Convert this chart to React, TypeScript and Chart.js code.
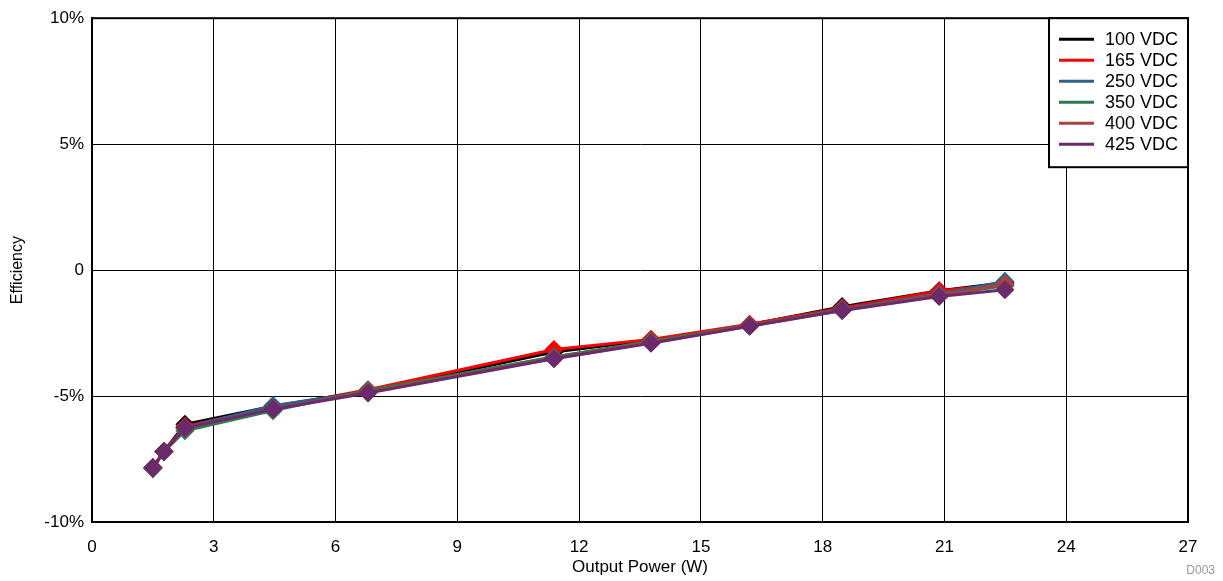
import React, { useEffect, useRef } from "react";
import { Chart, registerables } from "chart.js";

Chart.register(...registerables);

const outputPower = [1.5, 1.77, 2.29, 4.46, 6.8, 11.38, 13.77, 16.2, 18.48, 20.87, 22.49];

const seriesNames = ["100 VDC", "165 VDC", "250 VDC", "350 VDC", "400 VDC", "425 VDC"];
const seriesColors = ["#000000", "#ff0000", "#2f6089", "#2e7a4e", "#a8423f", "#6b2a6b"];

const eff100 = [-7.85, -7.2, -6.12, -5.4, -4.8, -3.25, -2.78, -2.17, -1.45, -0.82, -0.5];
const eff165 = [-7.85, -7.2, -6.2, -5.45, -4.75, -3.15, -2.75, -2.15, -1.5, -0.83, -0.55];
const eff250 = [-7.88, -7.2, -6.25, -5.38, -4.82, -3.45, -2.85, -2.2, -1.55, -0.95, -0.45];
const eff350 = [-7.85, -7.22, -6.38, -5.58, -4.78, -3.45, -2.82, -2.2, -1.58, -1.0, -0.62];
const eff400 = [-7.85, -7.2, -6.28, -5.5, -4.85, -3.5, -2.88, -2.22, -1.6, -1.0, -0.55];
const eff425 = [-7.85, -7.2, -6.27, -5.52, -4.88, -3.52, -2.9, -2.23, -1.6, -1.05, -0.78];

const seriesValues = [eff100, eff165, eff250, eff350, eff400, eff425];

const xTicks = [0, 3, 6, 9, 12, 15, 18, 21, 24, 27];
const yTicks = [-10, -5, 0, 5, 10];

const FONT = "'Liberation Sans', Arial, sans-serif";

const overlayPlugin = {
  id: "overlay",
  afterDraw(chart: any) {
    const { ctx, chartArea } = chart;
    const { left, right, top, bottom } = chartArea;
    ctx.save();
    // plot frame
    ctx.strokeStyle = "#000";
    ctx.lineWidth = 2;
    ctx.strokeRect(left, top, right - left, bottom - top);
    // legend box
    const bx = 1049, by = top, bw = right - 1049, bh = 149;
    ctx.fillStyle = "#fff";
    ctx.fillRect(bx, by, bw, bh);
    ctx.strokeRect(bx, by, bw, bh);
    ctx.font = `18px ${FONT}`;
    ctx.textBaseline = "middle";
    ctx.textAlign = "left";
    seriesNames.forEach((name, i) => {
      const y = by + 21 + i * 21;
      ctx.strokeStyle = seriesColors[i];
      ctx.lineWidth = 3;
      ctx.beginPath();
      ctx.moveTo(bx + 10, y);
      ctx.lineTo(bx + 45, y);
      ctx.stroke();
      ctx.fillStyle = "#000";
      ctx.fillText(name, bx + 56, y + 1);
    });
    // figure id
    ctx.font = `12px ${FONT}`;
    ctx.fillStyle = "#999";
    ctx.textAlign = "right";
    ctx.fillText("D003", 1215, 571);
    ctx.restore();
  },
};

export default function App() {
  const ref = useRef<HTMLCanvasElement>(null);
  useEffect(() => {
    if (!ref.current) return;
    const datasets = seriesNames.map((name, i) => ({
      label: name,
      data: outputPower.map((x, j) => ({ x, y: seriesValues[i][j] })),
      borderColor: seriesColors[i],
      backgroundColor: seriesColors[i],
      borderWidth: 3,
      pointStyle: "rectRot" as const,
      pointRadius: 8.5,
      pointBorderWidth: 1.5,
      pointBackgroundColor: seriesColors[i],
      pointBorderColor: seriesColors[i],
      order: seriesNames.length - i,
      tension: 0,
    }));
    const chart = new Chart(ref.current, {
      type: "line",
      data: { datasets },
      plugins: [overlayPlugin],
      options: {
        animation: false,
        responsive: true,
        maintainAspectRatio: false,
        layout: { padding: { top: 15, right: 35, left: 0, bottom: 0 } },
        plugins: { legend: { display: false }, tooltip: { enabled: false } },
        scales: {
          x: {
            type: "linear",
            min: 0,
            max: 27,
            afterBuildTicks: (s: any) => {
              s.ticks = xTicks.map((v) => ({ value: v }));
            },
            afterFit: (s: any) => {
              s.height = 59;
            },
            ticks: {
              color: "#000",
              font: { family: FONT, size: 17 },
              padding: 15,
              maxRotation: 0,
            },
            grid: { color: "#000", lineWidth: 1, drawTicks: false },
            border: { color: "#000", width: 2 },
            title: {
              display: true,
              text: "Output Power (W)",
              color: "#000",
              font: { family: FONT, size: 17 },
              padding: { top: 0, bottom: 3 },
            },
          },
          y: {
            type: "linear",
            min: -10,
            max: 10,
            afterBuildTicks: (s: any) => {
              s.ticks = yTicks.map((v) => ({ value: v }));
            },
            afterFit: (s: any) => {
              s.width = 92;
            },
            ticks: {
              color: "#000",
              font: { family: FONT, size: 17 },
              padding: 8,
              callback: (v: any) => (v === 0 ? "0" : `${v}%`),
            },
            grid: { color: "#000", lineWidth: 1, drawTicks: false },
            border: { color: "#000", width: 2 },
            title: {
              display: true,
              text: "Efficiency",
              color: "#000",
              font: { family: FONT, size: 16 },
              padding: { top: 8, bottom: 0 },
            },
          },
        },
      },
    });
    return () => chart.destroy();
  }, []);
  return (
    <div style={{ position: "absolute", left: 0, top: 0, width: 1223, height: 581, background: "#fff" }}>
      <canvas ref={ref} />
    </div>
  );
}
